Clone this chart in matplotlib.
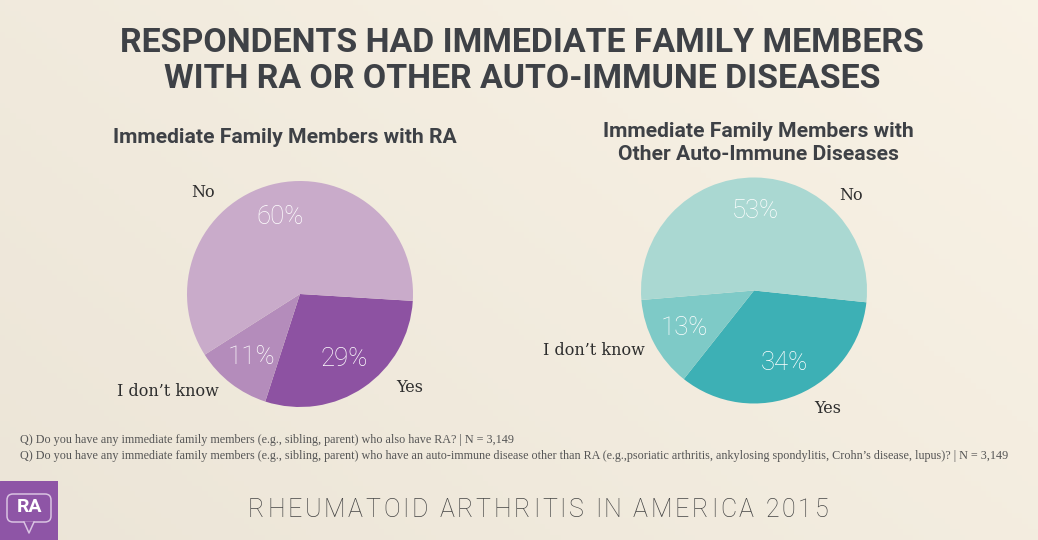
import matplotlib
matplotlib.use("Agg")
import matplotlib.pyplot as plt
import numpy as np
from matplotlib.patches import Rectangle, FancyBboxPatch, Polygon

# ---------------- data ----------------
title_lines = ["RESPONDENTS HAD IMMEDIATE FAMILY MEMBERS",
               "WITH RA OR OTHER AUTO-IMMUNE DISEASES"]
left_title = "Immediate Family Members with RA"
right_title = "Immediate Family Members with\nOther Auto-Immune Diseases"

left_categories = ["Yes", "I don\u2019t know", "No"]
left_values = [29, 11, 60]
right_categories = ["Yes", "I don\u2019t know", "No"]
right_values = [34, 13, 53]

footnotes = [
    "Q) Do you have any immediate family members (e.g., sibling, parent) who also have RA? | N = 3,149",
    "Q) Do you have any immediate family members (e.g., sibling, parent) who have an auto-immune disease other than RA (e.g.,psoriatic arthritis, ankylosing spondylitis, Crohn\u2019s disease, lupus)? | N = 3,149",
]
footer = "RHEUMATOID ARTHRITIS IN AMERICA 2015"

# ---------------- style ----------------
W, H = 1038, 540
left_colors = ["#8d52a2", "#b48cbb", "#c9abca"]
right_colors = ["#3db0b5", "#7ecac7", "#aad8d2"]
dark = "#3e4146"

fig = plt.figure(figsize=(W / 100, H / 100), dpi=100)
fig.patch.set_facecolor("#f3ecdf")

# subtle paper gradient
bg = fig.add_axes([0, 0, 1, 1], zorder=-10)
gx = np.linspace(0, 1, 200)
gy = np.linspace(0, 1, 100)
GX, GY = np.meshgrid(gx, gy)
c1 = np.array([0.925, 0.898, 0.845])
c2 = np.array([0.975, 0.950, 0.900])
t = np.clip(0.6 * GX + 0.4 * GY, 0, 1)[..., None]
img = c1 * (1 - t) + c2 * t
bg.imshow(img, extent=[0, 1, 0, 1], aspect="auto", origin="lower")
bg.set_axis_off()


def px_axes(cx, cy, r):
    return fig.add_axes([(cx - r) / W, (H - cy - r) / H, 2 * r / W, 2 * r / H])


def draw_pie(ax, values, cats, colors, start, label_pos):
    ax.pie(
        values, colors=colors, startangle=start, counterclock=False,
        autopct=lambda p: f"{int(round(p))}%", pctdistance=0.7, radius=1.0,
        textprops=dict(color="white", fontsize=18.5, family="Roboto", fontweight="light"),
        wedgeprops=dict(linewidth=0))
    ax.set_xlim(-1, 1)
    ax.set_ylim(-1, 1)
    for cat, (x, y) in zip(cats, label_pos):
        ax.text(x, y, cat, ha="center", va="center", fontsize=11.5,
                family="DejaVu Serif", color="#2e2e2e")


axL = px_axes(300, 294, 113)
draw_pie(axL, left_values, left_categories, left_colors, -3.5,
         [(0.97, -0.83), (-1.17, -0.86), (-0.86, 0.90)])
axR = px_axes(754, 290.5, 113)
draw_pie(axR, right_values, right_categories, right_colors, -6,
         [(0.65, -1.04), (-1.42, -0.53), (0.86, 0.84)])

# ---------------- texts ----------------
def fy(y):
    return 1 - y / H


t1 = fig.text(522 / W, fy(43), title_lines[0], ha="center", va="center",
              fontsize=24, fontweight="bold", family="Roboto", color=dark)
t2 = fig.text(522 / W, fy(79), title_lines[1], ha="center", va="center",
              fontsize=24, fontweight="bold", family="Roboto", color=dark)
s1 = fig.text(285 / W, fy(137), left_title, ha="center", va="center",
              fontsize=13, fontweight="bold", family="Roboto", color=dark)
s2 = fig.text(758 / W, fy(143), right_title, ha="center", va="center",
              fontsize=13, fontweight="bold", family="Roboto", color=dark,
              linespacing=1.25)
f1 = fig.text(20 / W, fy(440), footnotes[0], ha="left", va="center",
              fontsize=7, family="Liberation Serif", color="#555555")
f2 = fig.text(20 / W, fy(456), footnotes[1], ha="left", va="center",
              fontsize=7, family="Liberation Serif", color="#555555")

fig.canvas.draw()
r = fig.canvas.get_renderer()
for txt, target in [(t1, 806), (s1, 344), (f2, 997)]:
    bb = txt.get_window_extent(r)
    txt.set_fontsize(txt.get_fontsize() * target / bb.width)
t2.set_fontsize(t1.get_fontsize())
f1.set_fontsize(f2.get_fontsize())
s2.set_fontsize(s1.get_fontsize())


# letter-spaced footer
def tracked_text(s, cx, cy, target_w, **kw):
    probe = fig.text(0, 0, "", **kw)
    prefix = []
    for i in range(len(s) + 1):
        probe.set_text(s[:i] + "|")
        w_bar = probe.get_window_extent(r).width
        probe.set_text("|")
        prefix.append(w_bar - probe.get_window_extent(r).width)
    probe.remove()
    natural = prefix[-1]
    n = len(s)
    sp = (target_w - natural) / (n - 1)
    x0 = cx - target_w / 2
    for i, ch in enumerate(s):
        if ch == " ":
            continue
        fig.text((x0 + prefix[i] + i * sp) / W, fy(cy), ch, ha="left", va="center", **kw)


tracked_text(footer, 538, 510, 580, fontsize=18, fontweight="light",
             family="Roboto", color="#444444")

# ---------------- logo ----------------
logo = fig.add_axes([0, 0, 58 / W, 59 / H])
logo.set_xlim(0, 58)
logo.set_ylim(0, 59)
logo.set_axis_off()
logo.add_patch(Rectangle((0, 0), 58, 59, color="#8e55a6"))
logo.add_patch(FancyBboxPatch((7, 18), 44, 28, boxstyle="round,pad=0,rounding_size=6",
                              fill=False, ec="#d9c3e2", lw=1.1))
logo.add_patch(Polygon([[24, 18.6], [29, 7], [34, 18.6]], fc="#8e55a6", ec="none", zorder=3))
logo.plot([24, 29, 34], [18, 7, 18], color="#d9c3e2", lw=1.1, zorder=4)
logo.text(29, 33, "RA", color="white", fontsize=14, fontweight="bold",
          family="Roboto", ha="center", va="center")

fig.savefig("out.png", dpi=100, facecolor=fig.get_facecolor())
